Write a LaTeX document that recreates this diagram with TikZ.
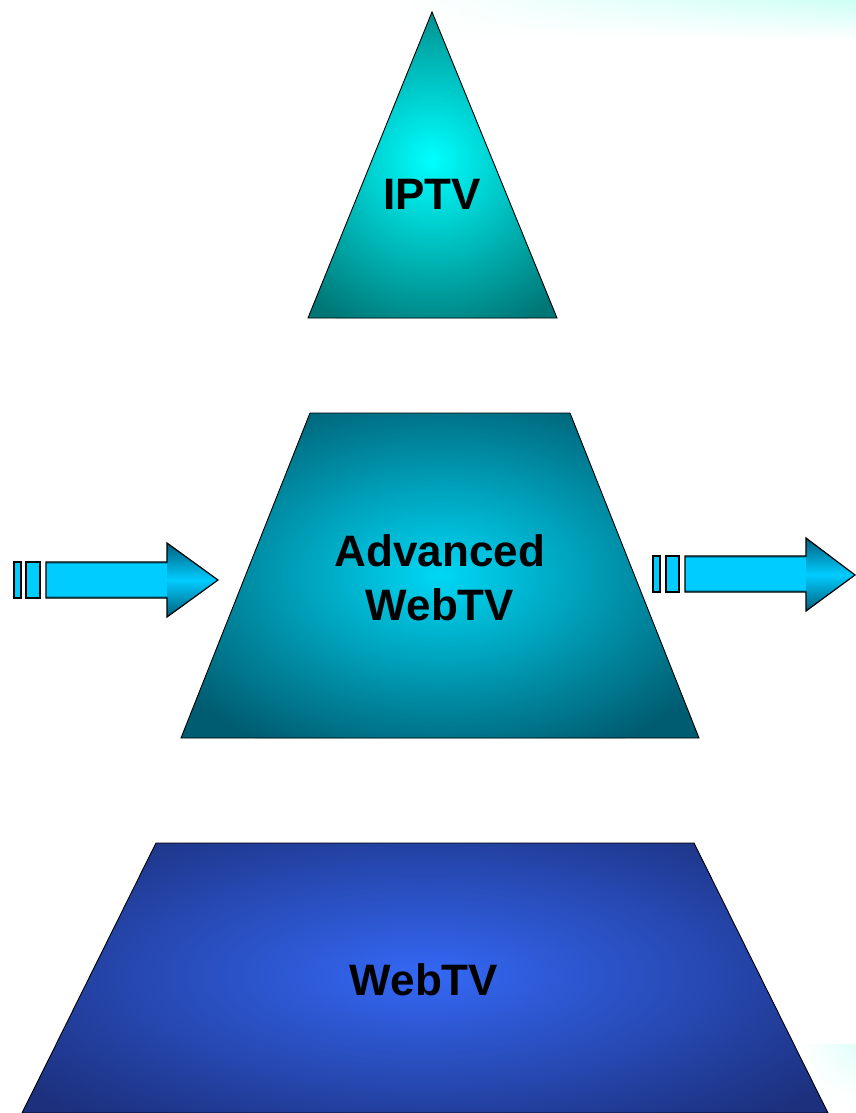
\documentclass[tikz,border=0pt]{standalone}
\usepackage{fontspec}
\setmainfont{Liberation Sans}
\usetikzlibrary{fadings}
\definecolor{tealdark}{RGB}{0,118,118}
\definecolor{tealbright}{RGB}{0,255,255}
\definecolor{middark}{RGB}{0,92,112}
\definecolor{midbright}{RGB}{0,215,245}
\definecolor{navydark}{RGB}{28,48,125}
\definecolor{navybright}{RGB}{52,104,245}
\definecolor{arrowcyan}{RGB}{0,204,255}
\definecolor{arrowdark}{RGB}{0,95,125}
\definecolor{dotcyan}{RGB}{205,255,245}
\tikzset{
  outline/.style={draw=black, line width=0.9pt, line join=miter},
  lbl/.style={font=\bfseries\fontsize{44}{54}\selectfont, align=center, text=black, inner sep=0pt},
  stripe/.style={draw=black, line width=1.2pt, fill=arrowcyan},
}
\begin{document}
\begin{tikzpicture}[x=1pt,y=-1pt]
\useasboundingbox (0,0) rectangle (856,1113);
% faint dotted background bands
\shade[left color=white, right color=dotcyan, path fading=south] (400,0) rectangle (856,40);
\shade[left color=white, right color=dotcyan, path fading=south, opacity=0.6] (800,1045) rectangle (856,1100);

% IPTV triangle
\begin{scope}
\clip (432,12) -- (557,318) -- (308,318) -- cycle;
\fill[tealdark] (300,0) rectangle (560,320);
\shade[inner color=tealbright, outer color=tealdark] (432,160) circle (185);
\end{scope}
\draw[outline] (432,12) -- (557,318) -- (308,318) -- cycle;
\node[lbl] (iptv) at (432,194) {IPTV};

% Advanced WebTV trapezoid
\begin{scope}
\clip (310,413) -- (570,413) -- (699,738) -- (181,738) -- cycle;
\fill[middark] (170,400) rectangle (710,750);
\shade[inner color=midbright, outer color=middark] (440,575) ellipse (320 and 200);
\end{scope}
\draw[outline] (310,413) -- (570,413) -- (699,738) -- (181,738) -- cycle;
\node[lbl] (adv) at (440,578) {Advanced\\WebTV};

% WebTV trapezoid
\begin{scope}
\clip (156,843) -- (694,843) -- (828,1113) -- (22,1113) -- cycle;
\fill[navydark] (10,830) rectangle (840,1120);
\shade[inner color=navybright, outer color=navydark] (424,975) ellipse (500 and 190);
\end{scope}
\draw[outline] (156,843) -- (694,843) -- (828,1113) -- (22,1113) -- cycle;
\node[lbl] (web) at (424,980) {WebTV};

% left arrow
\draw[stripe] (14,562) rectangle (21,598);
\draw[stripe] (26,562) rectangle (40,598);
\begin{scope}
\clip (46,562) -- (167,562) -- (167,543) -- (218,580) -- (167,617) -- (167,598) -- (46,598) -- cycle;
\shade[top color=arrowdark, bottom color=arrowdark, middle color=arrowcyan] (40,543) rectangle (220,617);
\fill[arrowcyan] (46,564) rectangle (167,596);
\end{scope}
\draw[outline, line width=1.2pt] (46,562) -- (167,562) -- (167,543) -- (218,580) -- (167,617) -- (167,598) -- (46,598) -- cycle;

% right arrow
\draw[stripe] (653,556) rectangle (660,592);
\draw[stripe] (666,556) rectangle (679,592);
\begin{scope}
\clip (685,556) -- (806,556) -- (806,538) -- (855,575) -- (806,611) -- (806,592) -- (685,592) -- cycle;
\shade[top color=arrowdark, bottom color=arrowdark, middle color=arrowcyan] (680,538) rectangle (856,611);
\fill[arrowcyan] (685,558) rectangle (806,590);
\end{scope}
\draw[outline, line width=1.2pt] (685,556) -- (806,556) -- (806,538) -- (855,575) -- (806,611) -- (806,592) -- (685,592) -- cycle;
\end{tikzpicture}
\end{document}
